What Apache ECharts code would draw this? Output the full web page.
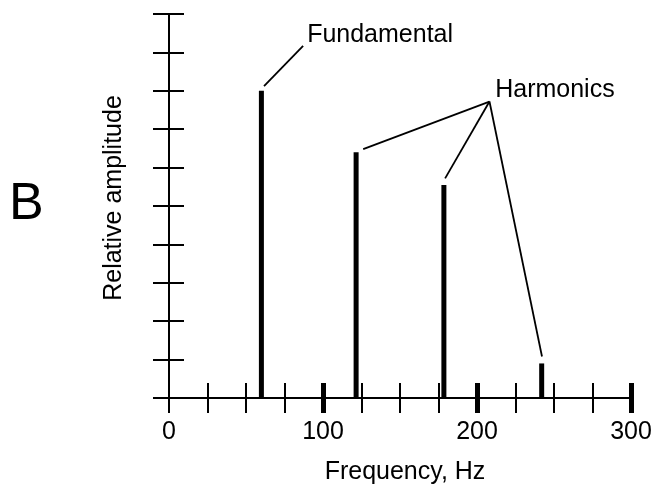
<!DOCTYPE html>
<html>
<head>
<meta charset="utf-8">
<script src="https://cdn.jsdelivr.net/npm/echarts@6/dist/echarts.min.js"></script>
<style>
html,body{margin:0;padding:0;background:#fff;}
#chart{width:661px;height:491px;}
</style>
</head>
<body>
<div id="chart"></div>
<script>
// ---- data ----
const frequencies = [60, 121.5, 178.5, 242];          // Hz
const amplitudes  = [8, 6.4, 5.55, 0.9];              // relative amplitude
const xTickLabels = [0, 100, 200, 300];
const xMajorTicks = [100, 200, 300];
const panelLetter = 'B';
const xTitle = 'Frequency, Hz';
const yTitle = 'Relative amplitude';
// annotation anchors in data coordinates [Hz, amplitude]
const fundamentalText = 'Fundamental';
const fundamentalLabelAt = [89.7, 9.45];
const fundamentalLine = [[61.7, 8.12], [87.1, 9.17]];
const harmonicsText = 'Harmonics';
const harmonicsLabelAt = [211.8, 8.02];
const harmonicsApex = [208.1, 7.72];
const harmonicsEnds = [[126.1, 6.48], [179.3, 5.72], [242.2, 1.08]];

const FONT = "'Liberation Sans', Arial, Helvetica, sans-serif";
const chart = echarts.init(document.getElementById('chart'), null, {renderer: 'canvas'});

const baseX = {type: 'value', min: 0, max: 300, interval: 25, position: 'bottom',
  splitLine: {show: false}, axisLine: {show: false, onZero: false}, axisLabel: {show: false}};
const baseY = {type: 'value', min: 0, max: 10, interval: 1, position: 'left',
  splitLine: {show: false}, axisLine: {show: false, onZero: false}, axisLabel: {show: false}};
const blk = '#000';

const leaderLines = [[{coord: fundamentalLine[0]}, {coord: fundamentalLine[1]}]]
  .concat(harmonicsEnds.map(e => [{coord: harmonicsApex}, {coord: e}]));

chart.setOption({
  backgroundColor: '#fff',
  animation: false,
  grid: {left: 169, right: 30, top: 14, bottom: 93, containLabel: false, outerBoundsMode: 'none'},
  xAxis: [
    Object.assign({}, baseX, {
      name: xTitle, nameLocation: 'middle', nameGap: 62,
      nameTextStyle: {fontFamily: FONT, fontSize: 25, color: blk, padding: [0, 0, 0, 10]},
      axisLine: {show: true, onZero: false, lineStyle: {color: blk, width: 2}},
      axisTick: {show: true, inside: false, length: 15, lineStyle: {color: blk, width: 2}},
      axisLabel: {show: true, customValues: xTickLabels, margin: 22,
        fontFamily: FONT, fontSize: 25, color: blk}
    }),
    Object.assign({}, baseX, {
      axisTick: {show: true, inside: true, length: 15, lineStyle: {color: blk, width: 2}}
    }),
    Object.assign({}, baseX, {
      axisTick: {show: true, inside: false, length: 15, customValues: xMajorTicks, lineStyle: {color: blk, width: 5}}
    }),
    Object.assign({}, baseX, {
      axisTick: {show: true, inside: true, length: 15, customValues: xMajorTicks, lineStyle: {color: blk, width: 5}}
    })
  ],
  yAxis: [
    Object.assign({}, baseY, {
      name: yTitle, nameLocation: 'middle', nameGap: 42, nameRotate: 90,
      nameTextStyle: {fontFamily: FONT, fontSize: 25, color: blk, padding: [0, 0, 0, 16]},
      axisLine: {show: true, onZero: false, lineStyle: {color: blk, width: 2}},
      axisTick: {show: true, inside: false, length: 16, lineStyle: {color: blk, width: 2}}
    }),
    Object.assign({}, baseY, {
      axisTick: {show: true, inside: true, length: 15, lineStyle: {color: blk, width: 2}}
    })
  ],
  graphic: [{
    type: 'text', left: 9, top: 179,
    style: {text: panelLetter, fontFamily: FONT, fontSize: 52, fill: blk}
  }],
  series: [{
    type: 'bar',
    xAxisIndex: 0, yAxisIndex: 0,
    barWidth: 5,
    itemStyle: {color: blk},
    data: frequencies.map((f, i) => [f, amplitudes[i]]),
    z: 5,
    markLine: {
      silent: true, symbol: ['none', 'none'], animation: false,
      label: {show: false},
      lineStyle: {color: blk, width: 1.8, type: 'solid'},
      emphasis: {disabled: true},
      data: leaderLines
    },
    markPoint: {
      silent: true, symbol: 'circle', symbolSize: 0, animation: false,
      itemStyle: {color: 'transparent'},
      label: {show: true, position: 'right', distance: 0, formatter: '{b}',
        fontFamily: FONT, fontSize: 25, color: blk},
      data: [
        {name: fundamentalText, coord: fundamentalLabelAt},
        {name: harmonicsText, coord: harmonicsLabelAt}
      ]
    }
  }]
});
</script>
</body>
</html>
